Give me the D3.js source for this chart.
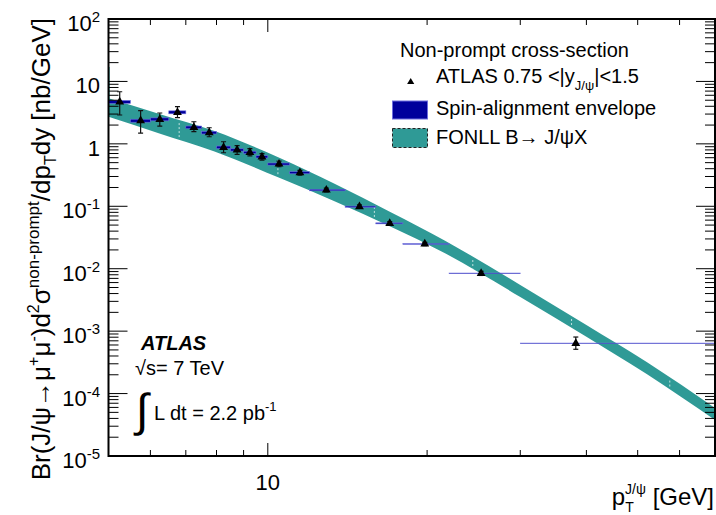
<!DOCTYPE html>
<html>
<head>
<meta charset="utf-8">
<script src="https://cdn.jsdelivr.net/npm/d3@7"></script>
<style>
  body { margin: 0; background: #fff; }
  svg { display: block; font-family: "Liberation Sans", Arial, Helvetica, sans-serif; }
</style>
</head>
<body>
<svg id="chart"></svg>
<script>
// non-prompt J/psi cross-section, 0.75 < |y| < 1.5
const binLo = [5, 5.5, 6, 6.5, 7, 7.5, 8, 8.5, 9, 9.5, 10, 11, 12, 14, 16, 18, 22, 30];
const binHi = [5.5, 6, 6.5, 7, 7.5, 8, 8.5, 9, 9.5, 10, 11, 12, 14, 16, 18, 22, 30, 70];
const ptMean = [5.25, 5.75, 6.25, 6.75, 7.25, 7.75, 8.25, 8.75, 9.25, 9.75, 10.5, 11.5, 12.9, 14.9, 17.0, 19.8, 25.3, 38.2];
const xsec = [4.7, 2.35, 2.47, 3.2, 1.84, 1.51, 0.88, 0.80, 0.73, 0.62, 0.475, 0.345, 0.182, 0.0986, 0.0533, 0.0249, 0.00843, 0.000638];
const errUp = [6.84, 3.40, 3.12, 3.94, 2.26, 1.81, 1.08, 0.94, 0.84, 0.70, 0.53, 0.375, 0.195, 0.105, 0.057, 0.0265, 0.0091, 0.000805];
const errDn = [2.90, 1.49, 1.93, 2.64, 1.57, 1.30, 0.72, 0.68, 0.64, 0.55, 0.43, 0.315, 0.170, 0.093, 0.050, 0.0234, 0.0078, 0.000512];

// spin-alignment envelope (lower / upper edge per bin)
const envLo = [4.45, 2.22, 2.34, 3.03, 1.75, 1.44, 0.838, 0.765, 0.698, 0.594, 0.457, 0.332, 0.177, 0.0965, 0.0523, 0.0246, 0.00834, 0.000632];
const envHi = [4.96, 2.48, 2.61, 3.38, 1.93, 1.58, 0.922, 0.835, 0.762, 0.646, 0.493, 0.358, 0.187, 0.1007, 0.0543, 0.0252, 0.00852, 0.000644];

// FONLL B -> J/psi X band
const bandPt = [5.0, 6.24, 7.93, 10.54, 13.4, 17.04, 21.67, 30, 40, 52, 70];
const bandHi = [5.37, 3.01, 1.607, 0.5935, 0.2275, 0.0810, 0.0278, 0.00549, 0.001254, 3.206e-4, 5.875e-5];
const bandLo = [2.713, 1.466, 0.7544, 0.2839, 0.1193, 0.04746, 0.01753, 0.003524, 8.15e-4, 2.06e-4, 3.774e-5];
// thin spike of the band right at the lower pT edge
const spikePt = [5.0, 5.025];
const spikeHi = [17, 17];
const spikeLo = [5.0, 5.0];
const bandEdges = [6.8, 10.45, 15.9, 24.4, 37.5, 57.5];

const yDecades = [-5, -4, -3, -2, -1, 0, 1, 2];
const xLabels = [10];

const width = 716;
const height = 515;
const margin = { top: 19, right: 1, bottom: 59, left: 108.5 };
const teal = "#2f9a96";
const navy = "#00009c";
const envEdge = "#6e6ede";

const svg = d3.select("#chart").attr("width", width).attr("height", height);

const x = d3.scaleLog().domain([5, 70]).range([margin.left, width - margin.right]);
const y = d3.scaleLog().domain([1e-5, 1e2]).range([height - margin.bottom, margin.top]);

svg.append("defs").append("clipPath").attr("id", "plotclip")
  .append("rect")
  .attr("x", margin.left).attr("y", margin.top)
  .attr("width", width - margin.right - margin.left)
  .attr("height", height - margin.bottom - margin.top);

const plot = svg.append("g").attr("clip-path", "url(#plotclip)");

// FONLL band
const bandData = bandPt.map((p, i) => ({ p, lo: bandLo[i], hi: bandHi[i] }));
const area = d3.area()
  .x((d) => x(d.p))
  .y0((d) => y(d.lo))
  .y1((d) => y(d.hi))
  .curve(d3.curveMonotoneX);

plot.append("path").datum(bandData).attr("d", area).attr("fill", teal);

const spikeData = spikePt.map((p, i) => ({ p, lo: spikeLo[i], hi: spikeHi[i] }));
plot.append("path").datum(spikeData).attr("d", area.curve(d3.curveLinear)).attr("fill", teal);

// little white dashed seams in the band
const bandAt = (p, arr) => {
  const i = d3.bisectLeft(bandPt, p);
  const t = (Math.log(p) - Math.log(bandPt[i - 1])) / (Math.log(bandPt[i]) - Math.log(bandPt[i - 1]));
  return Math.exp(Math.log(arr[i - 1]) + t * (Math.log(arr[i]) - Math.log(arr[i - 1])));
};
plot.append("g").selectAll("line").data(bandEdges).join("line")
  .attr("x1", (d) => x(d)).attr("x2", (d) => x(d))
  .attr("y1", (d) => y(bandAt(d, bandHi)) + 3)
  .attr("y2", (d) => y(bandAt(d, bandLo)) - 1)
  .attr("stroke", "#fff")
  .attr("stroke-opacity", 0.7)
  .attr("stroke-width", 1)
  .attr("stroke-dasharray", "2,2");

// spin-alignment envelope boxes
const points = xsec.map((v, i) => ({
  lo: binLo[i], hi: binHi[i], pt: ptMean[i], v,
  eu: errUp[i], ed: errDn[i], el: envLo[i], eh: envHi[i],
}));

plot.append("g").selectAll("rect").data(points).join("rect")
  .attr("x", (d) => x(d.lo))
  .attr("width", (d) => x(d.hi) - x(d.lo))
  .attr("y", (d) => y(d.eh))
  .attr("height", (d) => y(d.el) - y(d.eh))
  .attr("fill", navy)
  .attr("stroke", envEdge)
  .attr("stroke-width", 0.6);

// error bars
const eb = plot.append("g").attr("stroke", "#111").attr("stroke-width", 1.2);
eb.selectAll("line.v").data(points).join("line").attr("class", "v")
  .attr("x1", (d) => x(d.pt)).attr("x2", (d) => x(d.pt))
  .attr("y1", (d) => y(d.eu)).attr("y2", (d) => y(d.ed));
eb.selectAll("line.t").data(points).join("line").attr("class", "t")
  .attr("x1", (d) => x(d.pt) - 2.5).attr("x2", (d) => x(d.pt) + 2.5)
  .attr("y1", (d) => y(d.eu)).attr("y2", (d) => y(d.eu));
eb.selectAll("line.b").data(points).join("line").attr("class", "b")
  .attr("x1", (d) => x(d.pt) - 2.5).attr("x2", (d) => x(d.pt) + 2.5)
  .attr("y1", (d) => y(d.ed)).attr("y2", (d) => y(d.ed));

// markers
const tri = d3.symbol().type(d3.symbolTriangle).size(34);
plot.append("g").selectAll("path").data(points).join("path")
  .attr("d", tri)
  .attr("transform", (d) => `translate(${x(d.pt)},${y(d.v)})`)
  .attr("fill", "#000");

// frame + ticks (ROOT style, inward on all four sides)
const x0 = margin.left, x1 = width - margin.right;
const y0 = height - margin.bottom, y1 = margin.top;
const isDecade = (v) => Math.abs(Math.log10(v) - Math.round(Math.log10(v))) < 1e-9;
const xTicks = x.ticks().filter((v) => v > 5 && v < 70);
const yTicks = y.ticks().filter((v) => v > 1e-5 && v < 1e2);

const ticks = svg.append("g").attr("stroke", "#000").attr("stroke-width", 1);
ticks.selectAll("line.xb").data(xTicks).join("line").attr("class", "xb")
  .attr("x1", (d) => x(d)).attr("x2", (d) => x(d))
  .attr("y1", y0).attr("y2", (d) => y0 - (isDecade(d) ? 13 : 6));
ticks.selectAll("line.xt").data(xTicks).join("line").attr("class", "xt")
  .attr("x1", (d) => x(d)).attr("x2", (d) => x(d))
  .attr("y1", y1).attr("y2", (d) => y1 + (isDecade(d) ? 13 : 6));
ticks.selectAll("line.yl").data(yTicks).join("line").attr("class", "yl")
  .attr("y1", (d) => y(d)).attr("y2", (d) => y(d))
  .attr("x1", x0).attr("x2", (d) => x0 + (isDecade(d) ? 19 : 10));
ticks.selectAll("line.yr").data(yTicks).join("line").attr("class", "yr")
  .attr("y1", (d) => y(d)).attr("y2", (d) => y(d))
  .attr("x1", x1).attr("x2", (d) => x1 - (isDecade(d) ? 19 : 10));

svg.append("rect")
  .attr("x", x0).attr("y", y1)
  .attr("width", x1 - x0).attr("height", y0 - y1)
  .attr("fill", "none").attr("stroke", "#000").attr("stroke-width", 2);

// tick labels: 10^n, except plain "10" and "1"
svg.append("g").selectAll("text").data(yDecades).join("text")
  .attr("x", x0 - 8.5)
  .attr("y", (d) => y(Math.pow(10, d)) + 12)
  .attr("text-anchor", "end")
  .style("font-size", "22px")
  .each(function (d) {
    const t = d3.select(this);
    if (d === 0) { t.text("1"); return; }
    if (d === 1) { t.text("10"); return; }
    t.append("tspan").text("10");
    t.append("tspan").attr("dy", -9).style("font-size", "15px").text(d);
  });

svg.append("g").selectAll("text").data(xLabels).join("text")
  .attr("x", (d) => x(d))
  .attr("y", 490)
  .attr("text-anchor", "middle")
  .style("font-size", "22px")
  .text((d) => d);

// axis titles
const yt = svg.append("text")
  .attr("transform", "translate(50,18) rotate(-90)")
  .attr("text-anchor", "end")
  .style("font-size", "26px");
yt.append("tspan").text("Br(J/ψ→μ");
yt.append("tspan").attr("dy", -11).style("font-size", "16px").text("+");
yt.append("tspan").attr("dy", 11).text("μ");
yt.append("tspan").attr("dy", -11).style("font-size", "16px").text("-");
yt.append("tspan").attr("dy", 11).text(")d");
yt.append("tspan").attr("dy", -11).style("font-size", "16px").text("2");
yt.append("tspan").attr("dy", 11).text("σ");
yt.append("tspan").attr("dy", -11).style("font-size", "17px").text("non-prompt");
yt.append("tspan").attr("dy", 11).text("/dp");
yt.append("tspan").attr("dy", 6).style("font-size", "16px").text("T");
yt.append("tspan").attr("dy", -6).text("dy [nb/GeV]");

const xt = svg.append("text")
  .attr("x", 714)
  .attr("y", 505)
  .attr("text-anchor", "end")
  .style("font-size", "24px");
xt.append("tspan").text("p");
xt.append("tspan").attr("dy", 7).style("font-size", "14px").text("T");
xt.append("tspan").attr("dx", -8.6).attr("dy", -18).style("font-size", "14px").text("J/ψ");
xt.append("tspan").attr("dy", 11).text(" [GeV]");

// ATLAS label block
svg.append("text").attr("x", 141).attr("y", 350)
  .style("font-size", "20px").style("font-weight", "bold").style("font-style", "italic")
  .text("ATLAS");
svg.append("text").attr("x", 135).attr("y", 375)
  .style("font-size", "20px")
  .text("√s= 7 TeV");
svg.append("text").attr("x", 136).attr("y", 426)
  .style("font-size", "46px")
  .style("font-weight", "300")
  .text("∫");
const lumi = svg.append("text").attr("x", 154).attr("y", 420).style("font-size", "20px");
lumi.append("tspan").text("L dt = 2.2 pb");
lumi.append("tspan").attr("dy", -9).style("font-size", "13px").text("-1");

// legend
const lg = svg.append("g").style("font-size", "20px");
lg.append("text").attr("x", 400).attr("y", 57).text("Non-prompt cross-section");
lg.append("path").attr("d", d3.symbol().type(d3.symbolTriangle).size(22))
  .attr("transform", "translate(410.7,82)").attr("fill", "#000");
const l2 = lg.append("text").attr("x", 436).attr("y", 83);
l2.append("tspan").text("ATLAS 0.75 <|y");
l2.append("tspan").attr("dy", 7).style("font-size", "13px").text("J/ψ");
l2.append("tspan").attr("dy", -7).text("|<1.5");
lg.append("rect").attr("x", 392.5).attr("y", 101).attr("width", 35).attr("height", 18)
  .attr("fill", navy).attr("stroke", envEdge).attr("stroke-width", 1);
lg.append("text").attr("x", 436).attr("y", 115).text("Spin-alignment envelope");
lg.append("rect").attr("x", 392.5).attr("y", 128.5).attr("width", 35).attr("height", 19)
  .attr("fill", teal).attr("stroke", "#222").attr("stroke-width", 1).attr("stroke-dasharray", "3,2");
lg.append("text").attr("x", 436).attr("y", 143.5).text("FONLL B→ J/ψX");
</script>
</body>
</html>
